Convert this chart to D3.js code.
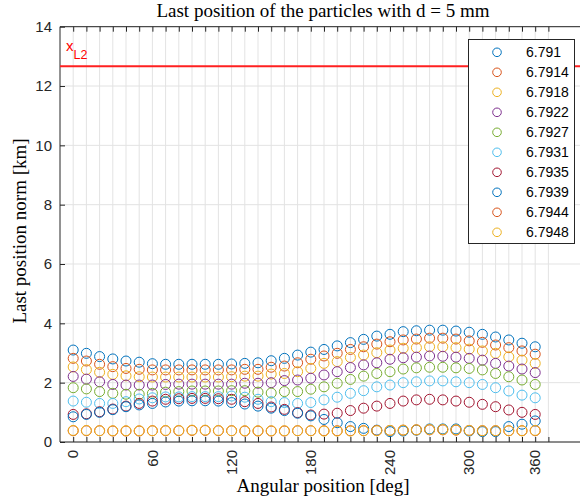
<!DOCTYPE html>
<html>
<head>
<meta charset="utf-8">
<script src="https://cdn.jsdelivr.net/npm/d3@7"></script>
<style>
  body { margin: 0; background: #fff; }
  svg { display: block; }
</style>
</head>
<body>
<div class="wrapper"></div>
<script>
// angular positions (deg), one per column of markers
const angles = [0, 10, 20, 30, 40, 50, 60, 70, 80, 90, 100, 110, 120, 130, 140, 150, 160, 170,
  180, 190, 200, 210, 220, 230, 240, 250, 260, 270, 280, 290, 300, 310, 320, 330, 340, 350]

const seriesNames = ['6.791', '6.7914', '6.7918', '6.7922', '6.7927', '6.7931', '6.7935', '6.7939', '6.7944', '6.7948']

const s6791 = [3.10, 2.99, 2.88, 2.80, 2.73, 2.69, 2.64, 2.62, 2.62, 2.62, 2.62, 2.62, 2.63, 2.65, 2.67, 2.74, 2.82, 2.93,
  3.03, 3.12, 3.24, 3.35, 3.46, 3.57, 3.63, 3.72, 3.75, 3.77, 3.77, 3.74, 3.70, 3.63, 3.54, 3.44, 3.33, 3.21]
const s67914 = [2.82, 2.73, 2.62, 2.54, 2.48, 2.45, 2.43, 2.43, 2.43, 2.43, 2.43, 2.43, 2.43, 2.45, 2.45, 2.52, 2.56, 2.67,
  2.79, 2.90, 2.99, 3.12, 3.21, 3.30, 3.38, 3.44, 3.47, 3.50, 3.50, 3.47, 3.41, 3.36, 3.27, 3.18, 3.07, 2.96]
const s67918 = [2.53, 2.44, 2.35, 2.28, 2.23, 2.20, 2.19, 2.19, 2.19, 2.19, 2.19, 2.19, 2.20, 2.22, 2.22, 2.29, 2.31, 2.37,
  2.48, 2.65, 2.71, 2.85, 2.93, 3.01, 3.10, 3.16, 3.18, 3.21, 3.21, 3.18, 3.13, 3.07, 2.99, 2.87, 2.76, 2.65]
const s67922 = [2.21, 2.12, 2.03, 1.94, 1.92, 1.92, 1.92, 1.94, 1.95, 1.95, 1.95, 1.95, 1.95, 1.98, 1.98, 2.00, 2.07, 2.09,
  2.15, 2.26, 2.37, 2.51, 2.60, 2.67, 2.79, 2.84, 2.86, 2.90, 2.89, 2.86, 2.82, 2.76, 2.65, 2.56, 2.46, 2.34]
const s67927 = [1.83, 1.79, 1.70, 1.64, 1.61, 1.61, 1.64, 1.68, 1.70, 1.72, 1.72, 1.72, 1.73, 1.73, 1.68, 1.65, 1.70, 1.70,
  1.78, 1.86, 1.98, 2.11, 2.22, 2.31, 2.37, 2.46, 2.50, 2.52, 2.52, 2.50, 2.48, 2.43, 2.31, 2.20, 2.09, 1.94]
const s67931 = [1.38, 1.34, 1.30, 1.30, 1.36, 1.45, 1.49, 1.52, 1.52, 1.53, 1.53, 1.53, 1.55, 1.51, 1.44, 1.36, 1.33, 1.30,
  1.33, 1.42, 1.51, 1.64, 1.73, 1.86, 1.92, 2.00, 2.03, 2.06, 2.06, 2.03, 2.00, 1.94, 1.83, 1.72, 1.58, 1.49]
const s67935 = [0.93, 0.95, 1.02, 1.11, 1.21, 1.30, 1.38, 1.44, 1.46, 1.47, 1.47, 1.46, 1.44, 1.36, 1.30, 1.18, 1.10, 0.99,
  0.91, 0.94, 0.97, 1.06, 1.14, 1.21, 1.30, 1.38, 1.42, 1.44, 1.42, 1.38, 1.34, 1.27, 1.19, 1.08, 1.00, 0.93]
const s67939 = [0.85, 0.93, 1.00, 1.09, 1.19, 1.25, 1.30, 1.35, 1.38, 1.39, 1.39, 1.38, 1.33, 1.28, 1.21, 1.14, 1.06, 0.97,
  0.88, 0.76, 0.65, 0.52, 0.46, 0.40, 0.35, 0.37, 0.40, 0.44, 0.44, 0.44, 0.37, 0.35, 0.35, 0.52, 0.60, 0.71]
const s67944 = [0.38, 0.38, 0.38, 0.37, 0.37, 0.37, 0.38, 0.38, 0.38, 0.39, 0.39, 0.38, 0.38, 0.37, 0.37, 0.37, 0.37, 0.38,
  0.38, 0.38, 0.38, 0.38, 0.38, 0.39, 0.39, 0.40, 0.41, 0.41, 0.41, 0.40, 0.39, 0.38, 0.38, 0.38, 0.38, 0.38]
const s67948 = [0.39, 0.39, 0.38, 0.38, 0.38, 0.38, 0.38, 0.39, 0.39, 0.40, 0.40, 0.39, 0.38, 0.38, 0.38, 0.38, 0.38, 0.38,
  0.38, 0.37, 0.37, 0.37, 0.38, 0.38, 0.39, 0.40, 0.41, 0.42, 0.42, 0.41, 0.39, 0.38, 0.38, 0.38, 0.38, 0.39]

const seriesValues = [s6791, s67914, s67918, s67922, s67927, s67931, s67935, s67939, s67944, s67948]

// L2 reference line
const xL2 = 12.67

// x ticks every 10 deg, only some carry a label (the last column is labelled 360)
const xTicks = [0, 10, 20, 30, 40, 50, 60, 70, 80, 90, 100, 110, 120, 130, 140, 150, 160, 170, 180,
  190, 200, 210, 220, 230, 240, 250, 260, 270, 280, 290, 300, 310, 320, 330, 340, 350, 360]
const xLabelPos = [0, 60, 120, 180, 240, 300, 350]
const xLabelText = ['0', '60', '120', '180', '240', '300', '360']
const yTicks = [0, 2, 4, 6, 8, 10, 12, 14]

const colors = ['#0072BD', '#D95319', '#EDB120', '#7E2F8E', '#77AC30', '#4DBEEE', '#A2142F', '#0072BD', '#D95319', '#EDB120']

const width = 580, height = 501
const axisColor = '#262626'
const sans = "'Liberation Sans', Arial, sans-serif"
const serif = "'Liberation Serif', 'Times New Roman', serif"

const x = d3.scaleLinear().domain([-10, 385]).range([60, 581.4])
const y = d3.scaleLinear().domain([0, 14]).range([442, 26.7])

const svg = d3.select('.wrapper')
  .append('svg')
  .attr('width', width)
  .attr('height', height)

const [x0, x1] = x.range()
const [y0, y1] = y.range()

// grid
svg.append('g')
  .selectAll('line')
  .data(xTicks)
  .join('line')
  .attr('x1', d => x(d)).attr('x2', d => x(d))
  .attr('y1', y0).attr('y2', y1)
  .attr('stroke', '#e3e3e3')

svg.append('g')
  .selectAll('line')
  .data(yTicks)
  .join('line')
  .attr('x1', x0).attr('x2', x1)
  .attr('y1', d => y(d)).attr('y2', d => y(d))
  .attr('stroke', '#e3e3e3')

// axes (ticks pointing inward, box on)
const bottomAxis = svg.append('g').attr('transform', `translate(0,${y0})`)
  .call(d3.axisBottom(x).tickValues(xTicks).tickSize(-5).tickFormat(''))
const topAxis = svg.append('g').attr('transform', `translate(0,${y1})`)
  .call(d3.axisTop(x).tickValues(xTicks).tickSize(-5).tickFormat(''))
const leftAxis = svg.append('g').attr('transform', `translate(${x0},0)`)
  .call(d3.axisLeft(y).tickValues(yTicks).tickSize(-5).tickFormat(''))

;[bottomAxis, topAxis, leftAxis].forEach(g => {
  g.select('.domain').remove()
  g.selectAll('.tick line').attr('stroke', axisColor)
})
svg.append('line').attr('x1', x0).attr('x2', x1).attr('y1', y0).attr('y2', y0).attr('stroke', axisColor)
svg.append('line').attr('x1', x0).attr('x2', x1).attr('y1', y1).attr('y2', y1).attr('stroke', axisColor)
svg.append('line').attr('x1', x0).attr('x2', x0).attr('y1', y0).attr('y2', y1).attr('stroke', axisColor)

// tick labels
svg.append('g')
  .selectAll('text')
  .data(xLabelPos)
  .join('text')
  .attr('transform', d => `translate(${x(d)},${y0 + 8}) rotate(-90)`)
  .attr('text-anchor', 'end')
  .attr('dy', '0.35em')
  .style('font-family', sans)
  .style('font-size', '15px')
  .attr('fill', axisColor)
  .text((d, i) => xLabelText[i])

svg.append('g')
  .selectAll('text')
  .data(yTicks)
  .join('text')
  .attr('x', x0 - 8)
  .attr('y', d => y(d))
  .attr('dy', '0.35em')
  .attr('text-anchor', 'end')
  .style('font-family', sans)
  .style('font-size', '15px')
  .attr('fill', axisColor)
  .text(d => d)

// markers
seriesValues.forEach((vals, k) => {
  svg.append('g')
    .selectAll('circle')
    .data(vals)
    .join('circle')
    .attr('cx', (d, i) => x(angles[i]))
    .attr('cy', d => y(d))
    .attr('r', 5)
    .attr('fill', 'none')
    .attr('stroke', colors[k])
    .attr('stroke-width', 1)
})

// L2 line
svg.append('line')
  .attr('x1', x0).attr('x2', x1)
  .attr('y1', y(xL2)).attr('y2', y(xL2))
  .attr('stroke', '#ff2020')
  .attr('stroke-width', 2)

const lbl = svg.append('text')
  .attr('x', 66)
  .attr('y', 50.5)
  .attr('fill', '#ff0000')
  .style('font-family', sans)
  .style('font-size', '15px')
lbl.append('tspan').text('x')
lbl.append('tspan').attr('dy', 8).style('font-size', '12.5px').text('L2')

// title and axis labels
svg.append('text')
  .attr('x', 323).attr('y', 17)
  .attr('text-anchor', 'middle')
  .style('font-family', serif)
  .style('font-size', '19px')
  .attr('fill', '#000')
  .text('Last position of the particles with d = 5 mm')

svg.append('text')
  .attr('x', 323).attr('y', 492)
  .attr('text-anchor', 'middle')
  .style('font-family', serif)
  .style('font-size', '19px')
  .attr('fill', '#000')
  .text('Angular position [deg]')

svg.append('text')
  .attr('transform', 'translate(26,231) rotate(-90)')
  .attr('text-anchor', 'middle')
  .style('font-family', serif)
  .style('font-size', '19px')
  .attr('fill', '#000')
  .text('Last position norm [km]')

// legend
const legend = svg.append('g')
legend.append('rect')
  .attr('x', 468.5).attr('y', 39.5)
  .attr('width', 106).attr('height', 204)
  .attr('fill', '#fff')
  .attr('stroke', axisColor)

const item = legend.selectAll('g.item')
  .data(seriesNames)
  .join('g')
  .attr('class', 'item')
  .attr('transform', (d, i) => `translate(0,${52.3 + i * 20})`)

item.append('circle')
  .attr('cx', 497).attr('cy', 0).attr('r', 4.3)
  .attr('fill', 'none')
  .attr('stroke', (d, i) => colors[i])

item.append('text')
  .attr('x', 526).attr('y', 0)
  .attr('dy', '0.35em')
  .style('font-family', sans)
  .style('font-size', '14px')
  .attr('fill', '#000')
  .text(d => d)
</script>
</body>
</html>
